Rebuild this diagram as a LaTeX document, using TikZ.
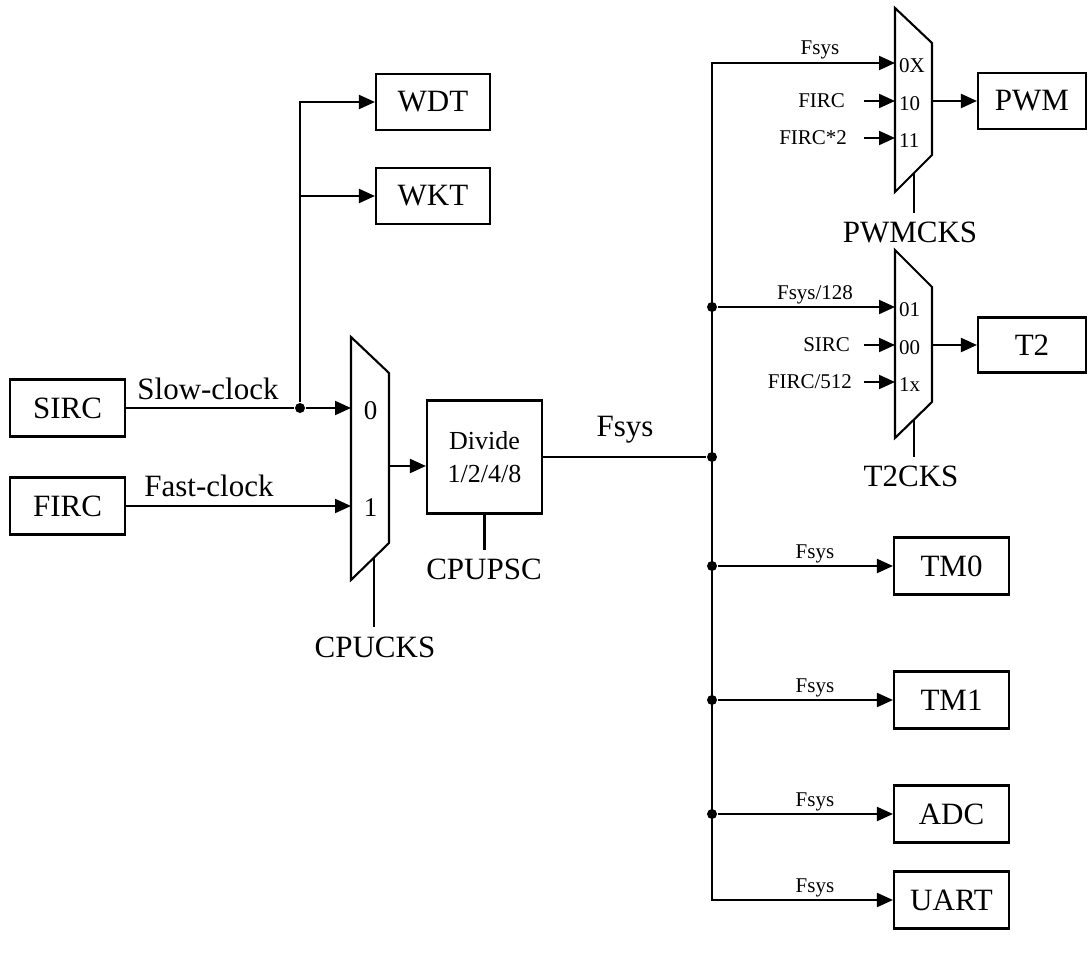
\documentclass[tikz,border=0pt]{standalone}
\usepackage{fontspec}
\setmainfont{Liberation Serif}
\usetikzlibrary{arrows.meta,positioning}

\begin{document}
\begin{tikzpicture}[x=1pt,y=-1pt,line width=2.1pt,>={Triangle[length=16pt,width=14pt]},
  blk/.style={rectangle,draw,minimum width=115pt,minimum height=57pt,inner sep=0pt,font=\fontsize{31}{36}\selectfont},
  lbl/.style={inner sep=0pt,font=\fontsize{31}{36}\selectfont},
  muxno/.style={inner sep=0pt,font=\fontsize{27}{32}\selectfont},
  sm/.style={inner sep=0pt,font=\fontsize{21}{25}\selectfont},
  dot/.style={circle,fill,inner sep=0pt,minimum size=10pt}]
\useasboundingbox (0,0) rectangle (1088,955);

% clock sources and slow clock users
\node [blk] (sirc) at (67.5,408) {SIRC};
\node [blk] (firc) at (67.5,506) {FIRC};
\node [blk,minimum width=114pt,minimum height=56pt] (wdt) at (433,102) {WDT};
\node [blk,minimum width=114pt,minimum height=56pt] (wkt) at (433,196) {WKT};

% cpu clock mux
\draw (351,337) -- (389,373) -- (389,543) -- (351,580) -- cycle;
\coordinate (cpu0) at (351,408);
\coordinate (cpu1) at (351,506);
\coordinate (cpuout) at (389,466);
\coordinate (cpusel) at (374,558);
\coordinate (cpuselend) at (374,627);
\node [muxno] (cpul0) at (370.5,411) {0};
\node [muxno] (cpul1) at (370.5,508) {1};
\node [lbl,anchor=base] (cpucks) at (375,657) {CPUCKS};

% divider
\node [blk,minimum width=115pt,minimum height=113pt,align=center,font=\fontsize{26}{33}\selectfont] (div) at (484.5,457) {Divide\\1/2/4/8};
\coordinate (divselend) at (484.5,550);
\node [lbl,anchor=base] (cpupsc) at (484,579) {CPUPSC};

\node [dot] (jslow) at (300,408) {};
\coordinate (jwkt) at (300,196);
\node [lbl,anchor=base] (slowlbl) at (208,399) {Slow-clock};
\node [lbl,anchor=base] (fastlbl) at (209,496) {Fast-clock};

\draw (sirc) -- (jslow);
\draw [->] (jslow) -- (cpu0);
\draw [->] (firc) -- (cpu1);
\draw [->] (jslow) |- (wdt);
\draw [->] (jwkt) -- (wkt);
\draw [->] (cpuout) -- (cpuout -| div.west);
\draw (cpusel) -- (cpuselend);
\draw (div.south) -- (divselend);

% system clock
\node [dot] (jfsys) at (712,457) {};
\node [lbl,anchor=base] (fsyslbl) at (625,436) {Fsys};
\draw (div.east) -- (jfsys);
\coordinate (busbot) at (712,900);

% pwm clock mux
\draw (895,8) -- (932,43) -- (932,155) -- (895,192) -- cycle;
\coordinate (pwm0) at (895,63);
\coordinate (pwm1) at (895,101);
\coordinate (pwm2) at (895,138);
\coordinate (pwmout) at (932,101);
\coordinate (pwmsel) at (914,173);
\coordinate (pwmselend) at (914,213);
\node [sm,anchor=west] (pwml0) at (898,66) {0X};
\node [sm,anchor=west] (pwml1) at (898,104) {10};
\node [sm,anchor=west] (pwml2) at (898,141) {11};
\node [blk,minimum width=108pt,minimum height=56pt] (pwm) at (1032,101) {PWM};
\node [lbl,anchor=base] (pwmcks) at (910,243) {PWMCKS};
\node [sm,anchor=base] (pwmfsys) at (820,55) {Fsys};
\node [sm,anchor=east] (pwmfirc) at (846,101) {FIRC};
\node [sm,anchor=east] (pwmfirc2) at (848,138) {FIRC*2};

\draw [->] (pwmout) -- (pwm);
\draw (pwmsel) -- (pwmselend);
\draw [->,shorten <=18pt] (pwmfirc) -- (pwm1);
\draw [->,shorten <=16pt] (pwmfirc2) -- (pwm2);

% t2 clock mux
\draw (895,250) -- (932,287) -- (932,402) -- (895,438) -- cycle;
\coordinate (t20) at (895,307);
\coordinate (t21) at (895,345);
\coordinate (t22) at (895,382);
\coordinate (t2out) at (932,345);
\coordinate (t2sel) at (914,420);
\coordinate (t2selend) at (914,457);
\node [sm,anchor=west] (t2l0) at (898,310) {01};
\node [sm,anchor=west] (t2l1) at (898,348) {00};
\node [sm,anchor=west] (t2l2) at (898,385) {1x};
\node [blk,minimum width=108pt,minimum height=55pt] (t2) at (1032,345) {T2};
\node [lbl,anchor=base] (t2cks) at (911,486) {T2CKS};
\node [dot] (jt2) at (712,307) {};
\node [sm,anchor=base] (t2fsys) at (815,299) {Fsys/128};
\node [sm,anchor=east] (t2sirc) at (851,345) {SIRC};
\node [sm,anchor=east] (t2firc) at (853,382) {FIRC/512};

\draw [->] (jt2) -- (t20);
\draw [->] (t2out) -- (t2);
\draw (t2sel) -- (t2selend);
\draw [->,shorten <=13pt] (t2sirc) -- (t21);
\draw [->,shorten <=11pt] (t2firc) -- (t22);

% fsys users
\node [blk] (uart) at (951.5,900) {UART};
\node [sm,anchor=base] (uartfsys) at (815,892) {Fsys};
\foreach \nm/\txt/\y in {tm0/TM0/566,tm1/TM1/700,adc/ADC/814}{
  \node [blk] (\nm) at (951.5,\y) {\txt};
  \node [dot] (j\nm) at (712,\y) {};
  \node [sm,anchor=base] (\nm fsys) at (815,\y-8) {Fsys};
  \draw [->] (j\nm) -- (\nm);
}
\draw [<->] (pwm0) -| (busbot) -- (uart);
\end{tikzpicture}
\end{document}
